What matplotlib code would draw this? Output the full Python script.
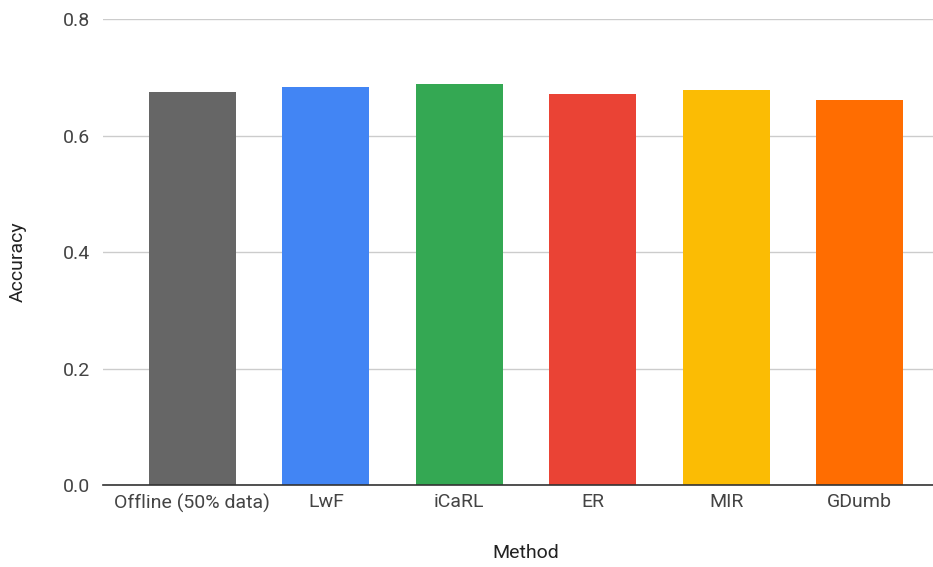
import matplotlib.pyplot as plt

methods = ["Offline (50% data)", "LwF", "iCaRL", "ER", "MIR", "GDumb"]
accuracy = [0.675, 0.683, 0.689, 0.672, 0.678, 0.661]
bar_colors = ["#666666", "#4285F4", "#34A853", "#EA4335", "#FBBC04", "#FF6D01"]
y_ticks = [0.0, 0.2, 0.4, 0.6, 0.8]

plt.rcParams["font.family"] = ["Roboto", "DejaVu Sans"]

fig = plt.figure(figsize=(9.33, 5.67), dpi=100)
ax = fig.add_axes([0.1104, 0.1446, 0.8896, 0.8214])

x = list(range(len(methods)))
ax.bar(x, accuracy, width=0.65, color=bar_colors, zorder=3)

ax.set_xlim(-0.67, 5.55)
ax.set_ylim(0, 0.8)
ax.set_yticks(y_ticks)
ax.set_yticklabels([f"{t:.1f}" for t in y_ticks])
ax.set_xticks(x)
ax.set_xticklabels(methods)

ax.grid(axis="y", color="#cccccc", linewidth=1, zorder=0)
for side in ["top", "right", "left"]:
    ax.spines[side].set_visible(False)
ax.spines["bottom"].set_color("#333333")
ax.spines["bottom"].set_linewidth(1.2)
ax.spines["bottom"].set_zorder(4)

ax.tick_params(axis="both", length=0, labelsize=14, colors="#444444")
ax.tick_params(axis="y", pad=9)
ax.tick_params(axis="x", pad=6)

fig.text(0.019, 0.538, "Accuracy", rotation=90, ha="center", va="center",
         fontsize=14, color="#222222")
fig.text(0.564, 0.025, "Method", ha="center", va="center",
         fontsize=14, color="#222222")

plt.savefig("out.png", dpi=100)
